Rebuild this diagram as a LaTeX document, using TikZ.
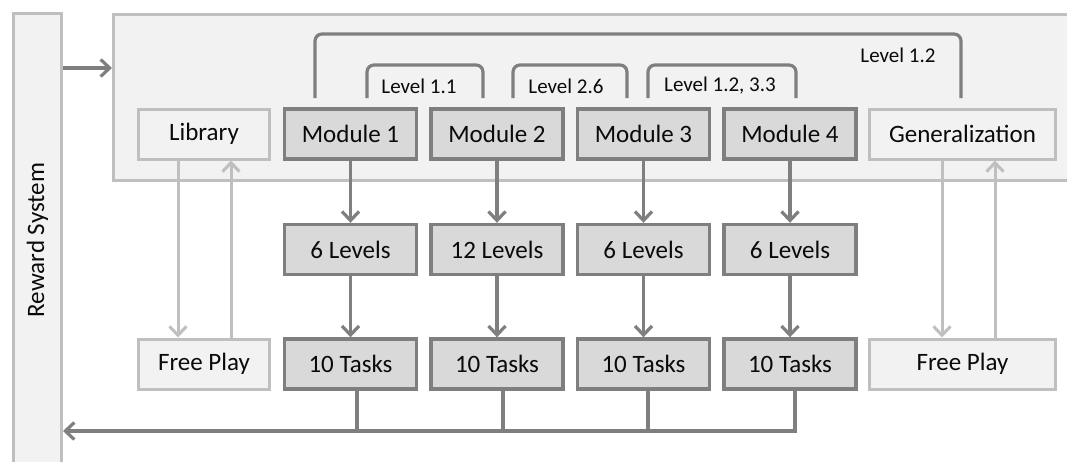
\documentclass[tikz,border=0pt]{standalone}
\usepackage{fontspec}
\setmainfont{Carlito}
\usetikzlibrary{arrows.meta}
\definecolor{dk}{HTML}{7F7F7F}
\definecolor{lt}{HTML}{BFBFBF}
\definecolor{dkfill}{HTML}{D9D9D9}
\definecolor{ltfill}{HTML}{F2F2F2}
\definecolor{txt}{HTML}{0A0A0A}
\begin{document}
\begin{tikzpicture}[x=1pt,y=-1pt,
  boxtext/.style={font=\fontsize{25}{29}\selectfont,text=txt,inner sep=0pt},
  darkbox/.style={boxtext,draw=dk,fill=dkfill,line width=3.4pt,minimum width=132pt,minimum height=50pt},
  lightbox/.style={boxtext,draw=lt,fill=ltfill,line width=3pt,minimum width=131pt,minimum height=50pt},
  dkline/.style={draw=dk,line width=3.2pt},
  ltline/.style={draw=lt,line width=3pt},
  tip/.style={-{Straight Barb[length=9pt,width=17pt]}},
  lvl/.style={font=\fontsize{21}{23}\selectfont,text=txt,inner sep=0pt},
  bracket/.style={dkline,rounded corners=7pt}
]
\useasboundingbox (0,0) rectangle (1067,461);
\fill[white] (0,0) rectangle (1067,461);
\clip (0,0) rectangle (1067,461);

% reward system bar and container
\node[boxtext,draw=lt,fill=ltfill,line width=3pt,minimum width=48pt,minimum height=454pt] (rs) at (37.5,240) {\rotatebox{90}{Reward System}};
\node[draw=lt,fill=ltfill,line width=3pt,minimum width=966.5pt,minimum height=166pt,inner sep=0pt] (ctr) at (596.75,97.5) {};

% brackets
\draw[bracket] (315,98) -- (315,34) -- (961,34) -- (961,98);
\draw[bracket] (367,98) -- (367,65) -- (483,65) -- (483,98);
\draw[bracket] (513,98) -- (513,65) -- (627,65) -- (627,98);
\draw[bracket] (648,98) -- (648,65) -- (796,65) -- (796,98);
\node[lvl] (lv11) at (419,86) {Level 1.1};
\node[lvl] (lv26) at (566,86) {Level 2.6};
\node[lvl] (lv1233) at (720,86) {Level 1.2, 3.3};
\node[lvl] (lv12) at (898,55) {Level 1.2};

% top row
\node[lightbox] (lib) at (204,134) {Library};
\node[darkbox] (m1) at (350.5,134) {Module 1};
\node[darkbox] (m2) at (497,134) {Module 2};
\node[darkbox] (m3) at (643.5,134) {Module 3};
\node[darkbox] (m4) at (790,134) {Module 4};
\node[lightbox,minimum width=186pt] (gen) at (962.5,134) {Generalization};

% levels row
\node[darkbox] (l1) at (350.5,249.5) {6 Levels};
\node[darkbox] (l2) at (497,249.5) {12 Levels};
\node[darkbox] (l3) at (643.5,249.5) {6 Levels};
\node[darkbox] (l4) at (790,249.5) {6 Levels};

% tasks row
\node[lightbox] (fp1) at (204,364) {Free Play};
\node[darkbox] (t1) at (350.5,364) {10 Tasks};
\node[darkbox] (t2) at (497,364) {10 Tasks};
\node[darkbox] (t3) at (643.5,364) {10 Tasks};
\node[darkbox] (t4) at (790,364) {10 Tasks};
\node[lightbox,minimum width=186pt] (fp2) at (962.5,364) {Free Play};

% top arrow into container
\coordinate (topy) at (0,68);
\draw[dkline,tip] (rs.east |- topy) -- (ctr.west |- topy);

% module -> levels -> tasks
\foreach \i in {1,2,3,4}{
  \draw[dkline,tip] (m\i.south) -- (l\i.north);
  \draw[dkline,tip] (l\i.south) -- (t\i.north);
}

% library / generalization <-> free play
\draw[ltline,tip] ([xshift=-26pt]lib.south) -- ([xshift=-26pt]fp1.north);
\draw[ltline,tip] ([xshift=27pt]fp1.north) -- ([xshift=27pt]lib.south);
\draw[ltline,tip] ([xshift=-20.5pt]gen.south) -- ([xshift=-20.5pt]fp2.north);
\draw[ltline,tip] ([xshift=32.5pt]fp2.north) -- ([xshift=32.5pt]gen.south);

% bottom bus back to reward system
\coordinate (busy) at (0,431);
\draw[dkline,tip] ([xshift=5pt]t4.south) |- (rs.east |- busy);
\draw[dkline] ([xshift=6.5pt]t1.south) -- ([xshift=6.5pt]t1.south |- busy);
\draw[dkline] ([xshift=6pt]t2.south) -- ([xshift=6pt]t2.south |- busy);
\draw[dkline] ([xshift=4.5pt]t3.south) -- ([xshift=4.5pt]t3.south |- busy);
\end{tikzpicture}
\end{document}
